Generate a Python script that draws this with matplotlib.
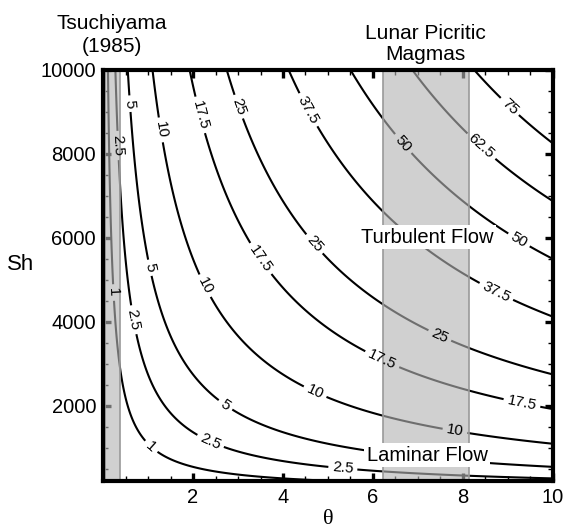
import numpy as np
import matplotlib
matplotlib.use("Agg")
import matplotlib.pyplot as plt
from matplotlib.ticker import MultipleLocator

plt.rcParams['font.family'] = ['Liberation Sans', 'DejaVu Sans']

# contour levels and their printed labels
levels = [1, 2.5, 5, 10, 17.5, 25, 37.5, 50, 62.5, 75]
level_text = ["1", "2.5", "5", "10", "17.5", "25", "37.5", "50", "62.5", "75"]

# value surface: level ~ k * theta * Sh
k_fit = 1 / 1100.0
theta = np.linspace(0.01, 10, 400)
sh = np.linspace(150, 10000, 400)

# shaded ranges (theta)
tsuchiyama_band = (0.05, 0.38)
lunar_band = (6.22, 8.13)

xticks = [2, 4, 6, 8, 10]
yticks = [2000, 4000, 6000, 8000, 10000]

T, S = np.meshgrid(theta, sh)
Z = k_fit * T * S

fig = plt.figure(figsize=(5.66, 5.3), dpi=100)
ax = fig.add_axes([0.182, 0.0925, 0.795, 0.7755])

cs = ax.contour(T, S, Z, levels=levels, colors='black', linewidths=1.5, zorder=2)

# label positions picked to sit where the original has them
label_pos = [(0.22, 4700), (1.1, 1070),
             (0.3, 8200), (0.67, 4050), (2.38, 1140), (5.33, 520),
             (0.64, 9200), (1.04, 5290), (2.75, 2070),
             (1.27, 8570), (2.3, 4880), (4.71, 2330), (7.82, 1400),
             (2.16, 8930), (3.56, 5550), (6.2, 3100), (9.31, 2070),
             (3.0, 9120), (4.67, 5830), (7.49, 3690),
             (4.56, 9050), (8.78, 4810),
             (6.76, 8330), (9.27, 6000),
             (8.53, 8330),
             (9.11, 9210)]
ax.clabel(cs, levels=levels, fmt=dict(zip(levels, level_text)), manual=label_pos,
          inline=True, inline_spacing=4, fontsize=11)

for lo, hi in (tsuchiyama_band, lunar_band):
    ax.axvspan(lo, hi, facecolor=(0.7, 0.7, 0.7, 0.62), edgecolor=(0.6, 0.6, 0.6, 1),
               linewidth=1.2, zorder=3)

ax.text(7.2, 6020, "Turbulent Flow", fontsize=14.5, ha='center', va='center', zorder=5,
        bbox=dict(facecolor='white', edgecolor='none', pad=2))
ax.text(7.2, 830, "Laminar Flow", fontsize=14.5, ha='center', va='center', zorder=5,
        bbox=dict(facecolor='white', edgecolor='none', pad=2))

ax.annotate("Tsuchiyama\n(1985)", xy=(0.2, 1.0), xycoords=('data', 'axes fraction'),
            xytext=(0, 10), textcoords='offset points',
            fontsize=15, ha='center', va='bottom', linespacing=1.3)
ax.annotate("Lunar Picritic\nMagmas", xy=(7.17, 1.0), xycoords=('data', 'axes fraction'),
            xytext=(0, 4), textcoords='offset points',
            fontsize=15, ha='center', va='bottom', linespacing=1.15)

ax.set_xlim(0, 10)
ax.set_ylim(214, 10000)
ax.set_xticks(xticks)
ax.set_yticks(yticks)
ax.xaxis.set_minor_locator(MultipleLocator(0.5))
ax.yaxis.set_minor_locator(MultipleLocator(500))
ax.tick_params(which='both', direction='in', top=True, right=True, labelsize=14.5)
ax.tick_params(which='major', length=6, width=2.4, pad=5)
ax.tick_params(which='minor', length=3.5, width=1)

for sp in ax.spines.values():
    sp.set_linewidth(3)
    sp.set_zorder(6)

ax.set_xlabel("θ", fontsize=16, family=['Liberation Serif', 'DejaVu Serif'], labelpad=2)
ax.set_ylabel("Sh", fontsize=16, rotation=0, labelpad=14)

fig.savefig("out.png", dpi=100)
